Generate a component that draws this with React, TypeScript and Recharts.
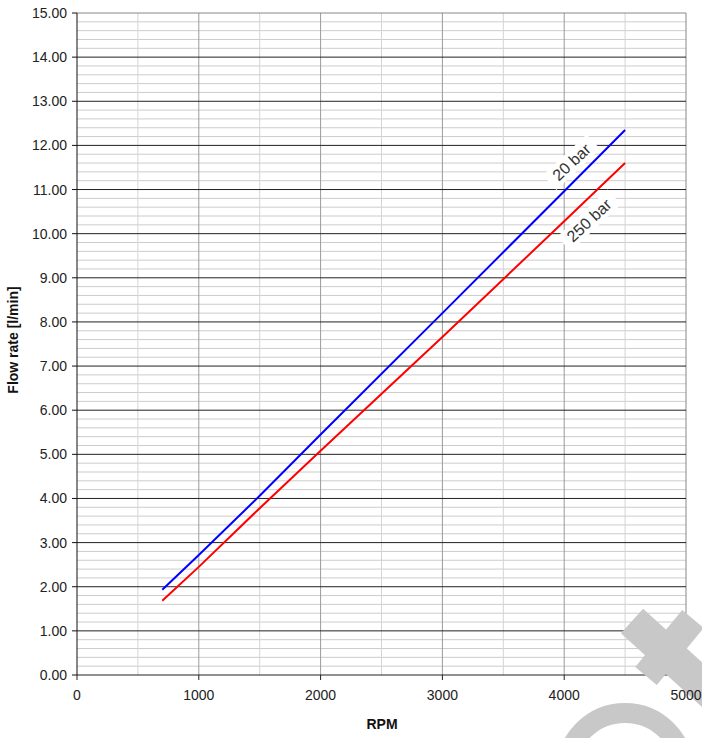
import React from "react";
import {
  LineChart,
  Line,
  XAxis,
  YAxis,
  ReferenceLine,
  ReferenceDot,
  Label,
} from "recharts";

// RPM sample points shared by both curves
const RPM = [700, 1000, 1500, 2000, 3000, 4000, 4500];
// Flow rate [l/min] at 20 bar and 250 bar
const FLOW_20 = [1.93, 2.72, 4.06, 5.45, 8.2, 10.96, 12.35];
const FLOW_250 = [1.68, 2.45, 3.78, 5.08, 7.66, 10.28, 11.6];

const X_TICKS = [0, 1000, 2000, 3000, 4000, 5000];
const X_MINOR = [500, 1500, 2500, 3500, 4500];
const Y_TICKS = Array.from({ length: 16 }, (_, i) => i);
const Y_MINOR = Y_TICKS.slice(0, 15).flatMap((v) => [0.2, 0.4, 0.6, 0.8].map((f) => +(v + f).toFixed(1)));

// where the curve names sit (data coords)
const LABELS = [
  { rpm: 4060, flow: 11.62, text: "20 bar" },
  { rpm: 4205, flow: 10.3, text: "250 bar" },
];

const data = RPM.map((r, i) => ({ rpm: r, p20: FLOW_20[i], p250: FLOW_250[i] }));

const FONT = "'Liberation Sans', Arial, Helvetica, sans-serif";
const WM = "#c8c8c8";

function CurveLabel(props: any) {
  const { cx, cy, text } = props;
  const w = text.length * 9 + 6;
  return (
    <g transform={`translate(${cx},${cy}) rotate(-43)`}>
      <rect x={-w / 2} y={-10} width={w} height={20} fill="#fff" />
      <text
        x={0}
        y={0}
        dy={5.5}
        textAnchor="middle"
        fontFamily={FONT}
        fontSize={16}
        fill="#333"
      >
        {text}
      </text>
    </g>
  );
}

// stamp in the lower right corner, drawn relative to the (5000, 0) corner
function Watermark(props: any) {
  const { cx, cy } = props;
  return (
    <g transform={`translate(${cx},${cy})`} pointerEvents="none">
      <line x1={-54} y1={-54} x2={34} y2={26} stroke={WM} strokeWidth={33} />
      <line x1={-40} y1={1} x2={7} y2={-56} stroke={WM} strokeWidth={28} />
      <circle cx={-61} cy={97} r={59} fill="none" stroke={WM} strokeWidth={20} />
    </g>
  );
}

export default function App() {
  return (
    <div style={{ position: "absolute", left: 0, top: 0, width: 702, height: 738, background: "#fff", overflow: "hidden" }}>
      <LineChart
        width={702}
        height={738}
        data={data}
        margin={{ top: 13, right: 16, bottom: 0, left: 0 }}
        style={{ overflow: "hidden" }}
      >
        {Y_MINOR.map((v) => (
          <ReferenceLine key={"ym" + v} y={v} stroke="#cccccc" strokeWidth={1} />
        ))}
        {X_MINOR.map((v) => (
          <ReferenceLine key={"xm" + v} x={v} stroke="#d4d4d4" strokeWidth={1} />
        ))}
        {X_TICKS.slice(1).map((v) => (
          <ReferenceLine key={"xM" + v} x={v} stroke={v === 5000 ? "#888" : "#9a9a9a"} strokeWidth={1} />
        ))}
        {Y_TICKS.slice(1).map((v) => (
          <ReferenceLine key={"yM" + v} y={v} stroke={v === 15 ? "#888" : "#222"} strokeWidth={1} />
        ))}

        <ReferenceDot x={5000} y={0} r={0} ifOverflow="visible" shape={(p: any) => <Watermark {...p} />} />

        <Line
          type="linear"
          dataKey="p20"
          stroke="#0000ff"
          strokeWidth={2}
          dot={false}
          isAnimationActive={false}
        />
        <Line
          type="linear"
          dataKey="p250"
          stroke="#ff0000"
          strokeWidth={2}
          dot={false}
          isAnimationActive={false}
        />

        {LABELS.map((l) => (
          <ReferenceDot
            key={l.text}
            x={l.rpm}
            y={l.flow}
            r={0}
            shape={(p: any) => <CurveLabel {...p} text={l.text} />}
          />
        ))}

        <XAxis
          type="number"
          dataKey="rpm"
          domain={[0, 5000]}
          ticks={X_TICKS}
          interval={0}
          height={63}
          tickSize={5}
          tickMargin={10}
          axisLine={{ stroke: "#222" }}
          tickLine={{ stroke: "#222" }}
          tick={{ fontSize: 14, fill: "#222", fontFamily: FONT }}
        >
          <Label
            content={() => (
              <text
                x={382}
                y={729}
                textAnchor="middle"
                fontFamily={FONT}
                fontSize={14}
                fontWeight="bold"
                fill="#111"
              >
                RPM
              </text>
            )}
          />
        </XAxis>
        <YAxis
          type="number"
          domain={[0, 15]}
          ticks={Y_TICKS}
          interval={0}
          width={77}
          tickSize={5}
          tickMargin={5}
          tickFormatter={(v: number) => v.toFixed(2)}
          axisLine={{ stroke: "#111" }}
          tickLine={{ stroke: "#111" }}
          tick={{ fontSize: 14, fill: "#222", fontFamily: FONT }}
        >
          <Label
            content={() => (
              <text
                x={18}
                y={340}
                transform="rotate(-90 18 340)"
                textAnchor="middle"
                fontFamily={FONT}
                fontSize={14}
                fontWeight="bold"
                fill="#111"
              >
                Flow rate [l/min]
              </text>
            )}
          />
        </YAxis>
      </LineChart>
    </div>
  );
}
